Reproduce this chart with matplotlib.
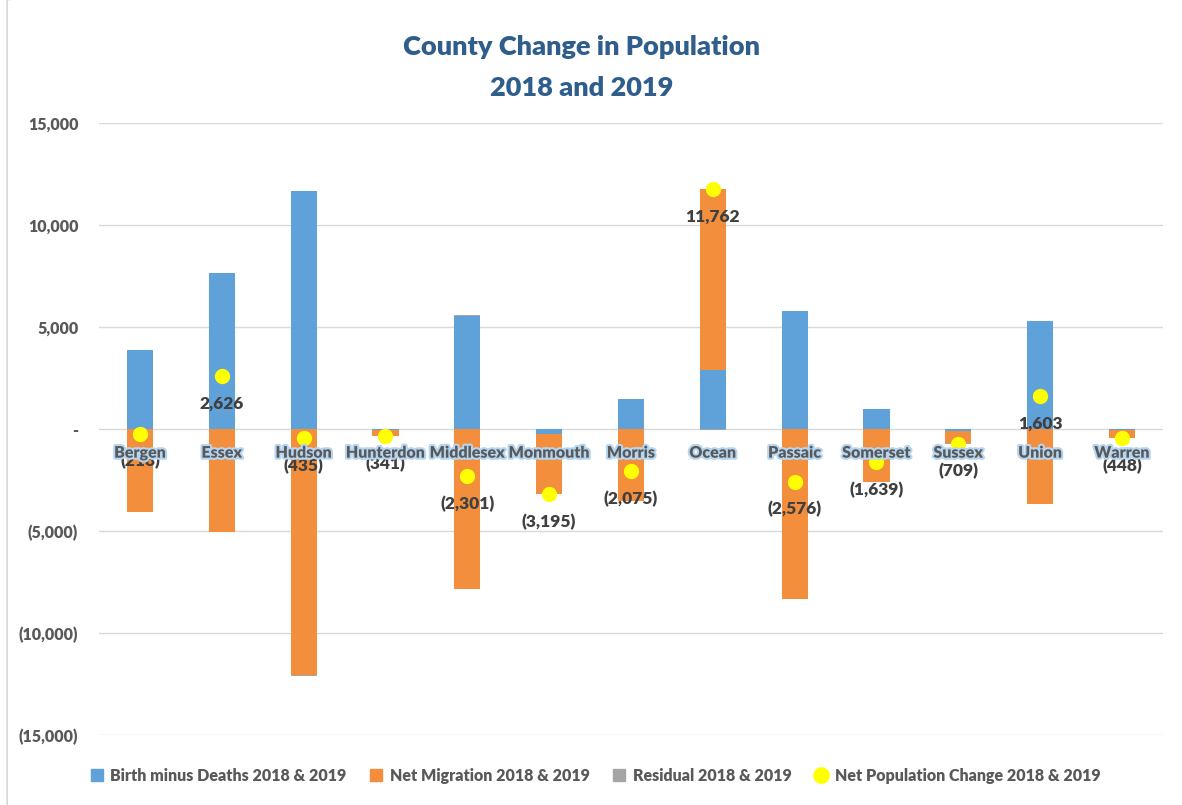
import numpy as np
import matplotlib.pyplot as plt
import matplotlib.patheffects as pe
from matplotlib.patches import FancyBboxPatch
from matplotlib.lines import Line2D
from matplotlib.ticker import FuncFormatter

counties = ['Bergen', 'Essex', 'Hudson', 'Hunterdon', 'Middlesex', 'Monmouth', 'Morris',
            'Ocean', 'Passaic', 'Somerset', 'Sussex', 'Union', 'Warren']
births_minus_deaths = [3870, 7650, 11670, -30, 5540, -250, 1470, 2900, 5780, 980, -100, 5290, -50]
net_migration = [-4070, -5050, -12050, -320, -7830, -2930, -3520, 8860, -8330, -2600, -600, -3680, -400]
residual = [-18, 26, -55, 9, 40, -15, -25, -40, -26, -19, -9, 30, 2]
net_change = [-218, 2626, -435, -341, -2301, -3195, -2075, 11762, -2576, -1639, -709, 1603, -448]

series = [('Birth minus Deaths 2018 & 2019', births_minus_deaths, '#5FA2DA'),
          ('Net Migration 2018 & 2019', net_migration, '#F28E3C'),
          ('Residual 2018 & 2019', residual, '#A5A5A5')]

txt = '#595959'
plt.rcParams['font.family'] = ['Lato', 'DejaVu Sans']
plt.rcParams['font.weight'] = 'heavy'

fig = plt.figure(figsize=(11.82, 8.05), dpi=100)
ax = fig.add_axes([0.0838, 0.087, 0.9, 0.76])

x = np.arange(len(counties))
pos = np.zeros(len(counties))
neg = np.zeros(len(counties))
# excel style stacking: positives go up, negatives go down
for name, vals, col in series:
    v = np.array(vals, dtype=float)
    bottom = np.where(v >= 0, pos, neg)
    ax.bar(x, v, 0.32, bottom=bottom, color=col, zorder=2)
    pos = pos + np.where(v >= 0, v, 0)
    neg = neg + np.where(v < 0, v, 0)

ax.scatter(x, net_change, s=100, color='#FFFF00', zorder=4)

def fmt(v):
    if v < 0:
        return '({:,.0f})'.format(-v)
    if v == 0:
        return '-'
    return '{:,.0f}'.format(v)

for xi, v in zip(x, net_change):
    ax.annotate(fmt(v), (xi, v), xytext=(0, -20), textcoords='offset points',
                ha='center', va='center', fontsize=12.5, color='#404040', zorder=5)

for xi, name in zip(x, counties):
    ax.annotate(name, (xi, 0), xytext=(0, -17), textcoords='offset points',
                ha='center', va='center', fontsize=11.5, color=txt, zorder=6,
                path_effects=[pe.withStroke(linewidth=3, foreground='#B5D5F0')])

ax.set_xlim(-0.5, len(counties) - 0.5)
ax.set_ylim(-15000, 15000)
ax.set_yticks(np.arange(-15000, 15001, 5000))
ax.yaxis.set_major_formatter(FuncFormatter(lambda v, p: fmt(v)))
ax.tick_params(axis='y', length=0, pad=15, labelsize=11.5, labelcolor=txt)
ax.set_xticks([])
ax.grid(axis='y', color='#D9D9D9', linewidth=1, zorder=0)
for s in ax.spines.values():
    s.set_visible(False)

fig.text(0.492, 0.941, 'County Change in Population', ha='center', va='center',
         fontsize=19.5, color='#2F5D8C')
fig.text(0.492, 0.891, '2018 and 2019', ha='center', va='center',
         fontsize=19.5, color='#2F5D8C')

handles = [Line2D([], [], marker='s', linestyle='', color=c, markersize=9) for _, _, c in series]
handles.append(Line2D([], [], marker='o', linestyle='', color='#FFFF00', markersize=11))
labels = [n for n, _, _ in series] + ['Net Population Change 2018 & 2019']
leg = fig.legend(handles, labels, loc='center', bbox_to_anchor=(0.503, 0.036), ncol=4,
                 frameon=False, fontsize=11.5, handletextpad=0.35, columnspacing=1.35,
                 handlelength=1.0)
for t in leg.get_texts():
    t.set_color(txt)

# chart border
fig.patches.append(FancyBboxPatch((0.006, -0.02), 1.2, 1.03, boxstyle='round,pad=0,rounding_size=0.01',
                                  transform=fig.transFigure, fill=False, edgecolor='#D9D9D9',
                                  linewidth=1.2))

fig.savefig('out.png', dpi=100)
